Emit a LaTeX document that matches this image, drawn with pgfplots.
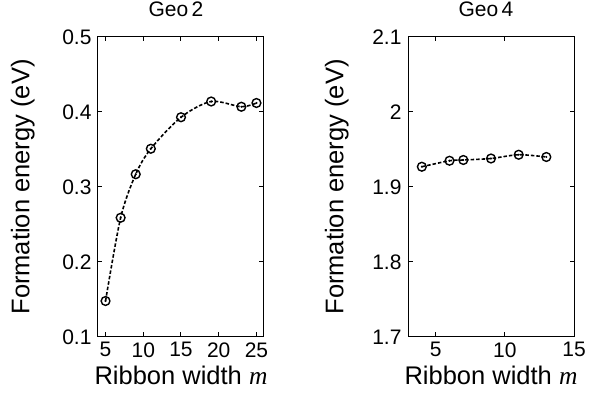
\documentclass[border=0pt]{standalone}
\usepackage{fontspec}
\setmainfont{Liberation Sans}
\newfontfamily\tmsfont{Liberation Serif}
\usepackage{pgfplots}
\pgfplotsset{compat=1.18}
\usepackage{pgfplotstable}

\pgfplotstableread{
m E
5 0.148
7 0.259
9 0.317
11 0.351
15 0.393
19 0.414
23 0.407
25 0.412
}\geotwo

\pgfplotstableread{
m E
4 1.927
6 1.935
7 1.936
9 1.938
11 1.943
13 1.940
}\geofour

\pgfplotsset{
  geo/.style={
    scale only axis,
    width=166pt, height=300pt,
    axis line style={line width=1pt},
    tick style={line width=1pt, black},
    major tick length=4.5pt,
    tick align=inside,
    /pgf/number format/assume math mode=true,
    ticklabel style={font=\fontsize{21}{23}\selectfont},
    xticklabel style={yshift=-2pt},
    yticklabel style={xshift=-3pt, /pgf/number format/fixed, /pgf/number format/precision=1},
    label style={font=\fontsize{25.5}{27}\selectfont},
    title style={font=\fontsize{21}{23}\selectfont, at={(axis description cs:0.5,1)}, anchor=base, yshift=14.5pt, xshift=-5pt},
    xlabel={Ribbon width {\tmsfont\itshape m}},
    ylabel={Formation energy (eV)},
    xlabel style={at={(axis description cs:0.5,0)}, anchor=base, yshift=-48pt},
  },
  dline/.style={black, line width=1.6pt, dash pattern=on 3.5pt off 2pt, smooth, mark=none},
  circ/.style={only marks, mark=o, mark size=4.4pt, mark options={solid, line width=1.4pt, black}},
  cdot/.style={only marks, mark=*, mark size=0.8pt, black},
}

\begin{document}
\begin{tikzpicture}
\path[use as bounding box] (-98pt,-66pt) rectangle (491pt,337pt);
\begin{axis}[geo,
  title={Geo\,2},
  xmin=4, xmax=26, ymin=0.1, ymax=0.5,
  xtick={5,10,15,20,25},
  ytick={0.1,0.2,0.3,0.4,0.5},
  ylabel style={at={(axis description cs:0,0.5)}, anchor=base, yshift=68.7pt},
]
\addplot[dline] table[x=m, y=E] {\geotwo};
\addplot[circ] table[x=m, y=E] {\geotwo};
\addplot[cdot] table[x=m, y=E] {\geotwo};
\end{axis}

\begin{axis}[geo, at={(310pt,0)},
  title={Geo\,4},
  xmin=3, xmax=15, ymin=1.7, ymax=2.1,
  xtick={5,10,15},
  ytick={1.7,1.8,1.9,2,2.1},
  ylabel style={at={(axis description cs:0,0.5)}, anchor=base, yshift=64.7pt},
]
\addplot[dline] table[x=m, y=E] {\geofour};
\addplot[circ] table[x=m, y=E] {\geofour};
\addplot[cdot] table[x=m, y=E] {\geofour};
\end{axis}
\end{tikzpicture}
\end{document}
